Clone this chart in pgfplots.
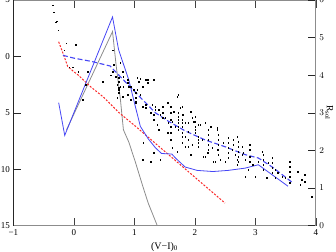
\documentclass[border=0pt]{standalone}
\usepackage{fontspec}
\setmainfont{Liberation Serif}
\usepackage{pgfplots}
\pgfplotsset{compat=1.18}
\definecolor{lblue}{RGB}{70,70,245}
\definecolor{lred}{RGB}{250,40,40}
\definecolor{lgray}{RGB}{140,140,140}
\begin{document}
\begin{tikzpicture}
\begin{axis}[name=main, scale only axis, width=302.5pt, height=225.7pt,
  xmin=-1, xmax=4, ymin=-5, ymax=15, y dir=reverse,
  axis x line*=box, axis y line*=left,
  x axis line style={lgray, line width=0.8pt}, y axis line style={black!85, line width=0.8pt},
  xtick={-1,0,1,2,3,4}, xticklabels={−1,0,1,2,3,4}, xticklabel pos=lower,
  ytick={-5,0,5,10,15}, yticklabels={−5,0,5,10,15},
  tick align=inside, major tick length=7.5pt,
  xtick style={black!75, line width=0.6pt}, ytick style={black!85, line width=0.6pt},
  tick label style={font=\fontsize{9}{10}\selectfont},
  label style={font=\fontsize{10}{12}\selectfont},
  xlabel={(V−I)\textsubscript{0}},
  clip=true]
\addplot[only marks, mark=square*, mark size=0.22pt, draw=none, fill=black!55] coordinates {
(-0.35,-4.55) (-0.33,-3.93) (-0.28,-3.14) (-0.30,-3.05) (-0.26,-2.34)
(-0.13,-1.19) (0.03,-1.02) (-0.16,-0.57) (-0.08,0.93) (-0.02,0.93)
(0.07,1.37) (0.23,1.37) (0.20,2.52) (0.48,2.25) (0.15,3.85)
(0.64,-0.57) (0.66,0.75) (0.69,1.81) (0.74,1.90) (0.72,2.52)
(0.81,1.37) (0.82,2.70) (0.74,2.79) (0.74,3.23) (0.72,3.67)
(0.77,0.57) (0.82,1.81) (0.74,2.25) (0.89,2.34) (0.94,2.70)
(1.05,1.90) (1.10,1.99) (1.22,2.08) (1.32,2.08) (1.14,2.70)
(1.10,3.40) (1.05,2.96) (0.89,3.40) (0.94,3.85) (1.02,4.02)
(1.14,4.47) (1.19,4.55) (1.27,5.00) (1.35,4.47) (1.40,4.73)
(1.43,5.17) (1.47,5.44) (1.60,4.47) (1.60,5.00) (1.65,4.91)
(1.71,3.58) (1.76,4.55) (1.79,5.17) (1.79,5.61) (1.93,4.91)
(1.96,5.44) (1.98,5.79) (2.09,6.06) (2.26,6.23) (2.37,6.32)
(1.84,5.88) (0.64,1.37) (0.61,1.64) (0.89,2.08) (0.91,2.70)
(1.07,2.25) (1.19,2.08) (1.22,2.34) (0.99,2.96) (1.02,3.23)
(0.77,2.70) (0.74,2.96) (0.81,3.58) (1.02,3.67) (1.02,4.11)
(1.19,4.29) (1.30,4.29) (1.35,4.73) (1.32,5.17) (1.32,5.61)
(1.47,4.47) (1.47,5.00) (1.51,5.44) (1.56,5.88) (1.38,6.06)
(1.40,6.50) (1.55,6.76) (1.63,5.79) (1.68,6.23)
(1.73,3.40) (1.55,4.11) (1.73,5.00) (1.73,5.35) (1.73,5.61)
(1.73,5.88) (1.73,6.23) (1.73,6.50) (1.79,4.47) (1.81,5.17)
(1.79,5.88) (1.79,6.76) (1.84,7.12) (1.89,5.88) (1.89,6.68)
(2.01,5.35) (2.01,5.79) (2.01,6.23) (2.01,6.50) (2.01,6.76)
(2.06,6.06) (2.06,7.12) (2.06,7.38) (2.06,7.65) (2.12,7.38)
(2.17,5.88) (2.22,6.50) (2.22,6.94) (2.22,7.38) (2.22,7.82)
(2.22,8.27) (2.29,8.09) (2.37,6.50) (2.39,6.94) (2.39,7.38)
(2.39,7.82) (2.39,8.27) (2.39,8.71) (2.42,9.15) (2.47,7.65)
(2.55,7.21) (2.55,7.65) (2.55,8.09) (2.55,8.53) (2.55,8.97)
(2.62,8.27) (2.63,7.38) (2.63,7.82) (2.67,8.71) (2.70,9.15)
(2.78,8.00) (2.80,8.53) (2.70,9.60) (2.34,9.33) (2.17,8.89)
(1.96,7.82) (1.84,8.00) (1.63,8.09)
(2.70,7.12) (2.72,7.56) (2.72,8.00) (2.72,8.44) (2.72,8.89)
(2.72,9.33) (2.78,8.71) (2.83,9.15) (2.91,7.82) (2.91,8.27)
(2.91,8.89) (2.91,9.33) (2.96,9.60) (2.88,10.04) (2.83,10.65)
(3.00,10.65) (3.11,8.44) (3.13,8.71) (3.13,9.15) (3.13,9.60)
(3.13,10.04) (3.05,9.33) (3.21,9.42) (3.28,8.97) (3.28,9.42)
(3.28,9.86) (3.28,10.30) (3.33,10.04) (3.33,10.74) (3.19,10.74)
(3.37,10.30) (3.44,10.65) (3.49,10.74) (3.57,9.33) (3.57,9.77)
(3.57,10.21) (3.57,10.65) (3.57,11.18) (3.70,10.21) (3.77,10.92)
(3.82,11.10) (3.74,11.36) (3.82,10.48) (3.93,12.42)
(1.14,9.15) (1.27,9.33) (1.15,7.65) (1.60,5.61) (1.60,6.23)
(1.60,6.76) (1.60,7.38) (1.79,6.23) (1.79,7.12) (1.79,7.65)
(1.89,7.38) (1.89,8.00) (2.06,8.00) (2.21,8.53) (2.37,8.27)
(1.71,8.44) (1.43,9.15) (1.32,8.53) (1.93,8.71) (2.14,8.89)
(2.30,9.33) (2.50,9.33)
};
% gray solid
\addplot[lgray, line width=0.8pt] coordinates {
(-0.12,6.5) (0.64,-2.2) (0.70,0.8) (0.77,3.8) (0.82,6.5) (0.91,7.6)
(1.02,9.4) (1.14,11.5) (1.23,13.0) (1.32,14.2) (1.38,15.0)
};
% red dashed
\addplot[lred, line width=1pt, dash pattern=on 2pt off 1.5pt] coordinates {
(-0.25,-1.3) (-0.18,-0.3) (-0.10,0.9) (0.0,1.35) (0.07,1.64) (0.28,2.7)
(0.49,3.6) (0.74,4.95) (1.0,6.1) (1.5,8.4) (2.0,10.7) (2.5,13.0)
};
% blue dashed
\addplot[lblue, line width=1.1pt, dash pattern=on 5pt off 2.5pt] coordinates {
(-0.18,-0.1) (0.0,0.15) (0.3,0.45) (0.6,0.85) (0.86,2.3) (1.14,3.85)
(1.35,5.0) (1.55,5.7) (1.84,6.6) (2.17,7.4) (2.5,8.0) (2.83,8.7)
(3.05,9.0) (3.28,9.8) (3.62,11.2)
};
% blue solid
\addplot[lblue, line width=0.8pt] coordinates {
(-0.25,4.1) (-0.15,7.0) (0.64,-3.5) (0.74,-0.6) (0.91,2.1) (1.02,4.5)
(1.10,6.2) (1.23,7.3) (1.35,8.1) (1.45,8.6) (1.62,8.65) (1.68,9.0)
(1.84,9.8) (2.04,10.1) (2.3,10.2) (2.55,10.1) (2.83,9.9) (3.05,9.6)
(3.54,11.5)
};
\end{axis}
\begin{axis}[scale only axis, width=302.5pt, height=225.7pt,
  xmin=-1, xmax=4, ymin=0, ymax=6,
  axis x line=none, axis y line*=right,
  y axis line style={lgray, line width=0.8pt},
  ytick={0,1,2,3,4,5,6},
  tick align=inside, major tick length=7.5pt,
  ytick style={black!85, line width=0.6pt},
  tick label style={font=\fontsize{9}{10}\selectfont},
  ylabel={R\textsubscript{sol}},
  ylabel style={font=\fontsize{9.5}{11}\selectfont, at={([xshift=13.5pt]rel axis cs:1,0.5)}, anchor=center, rotate=180}]
\end{axis}
\pgfresetboundingbox
\path[use as bounding box] ([xshift=-13.3pt,yshift=-25.3pt]main.south west) rectangle ([xshift=20.2pt]main.north east);
\end{tikzpicture}
\end{document}
